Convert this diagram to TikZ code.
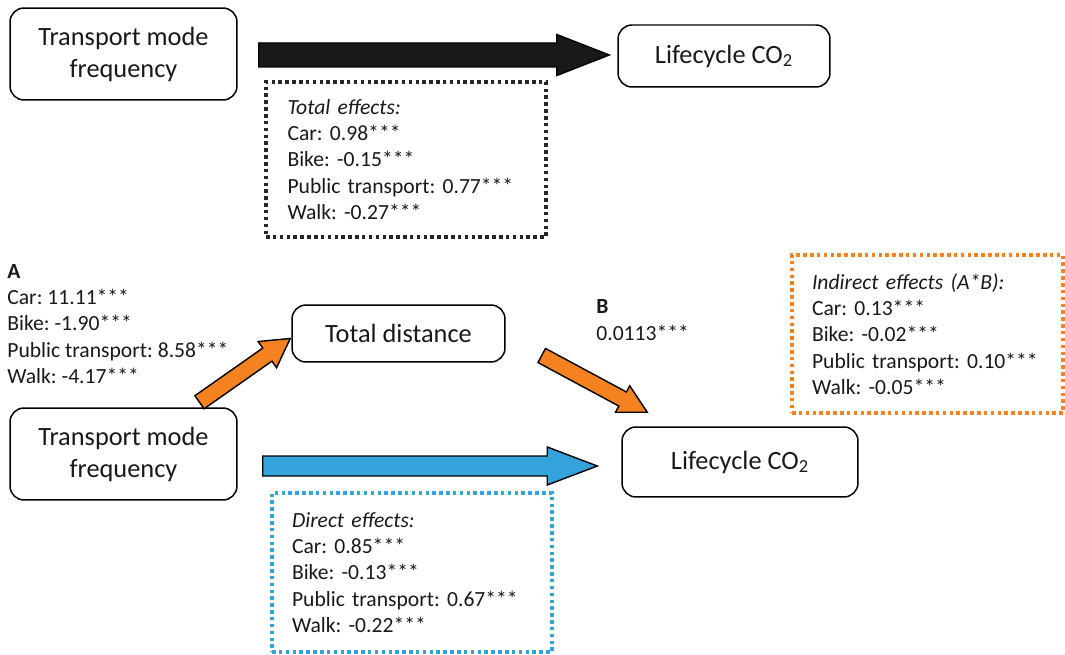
\documentclass[tikz,border=0pt]{standalone}
\usepackage{fontspec}
\setmainfont{Carlito}
\frenchspacing
\usetikzlibrary{positioning, calc}
\definecolor{effOrange}{RGB}{245,130,32}
\definecolor{effBlue}{RGB}{52,163,220}

% block arrow: \fatarrow[style]{from}{to}{shaft half width}{head half width}{head length}
\newcommand{\fatarrow}[6][]{%
  \path (#2) coordinate (fa-s) (#3) coordinate (fa-e);
  \path ($(fa-e)!#6!(fa-s)$) coordinate (fa-h);
  \draw[#1] ($(fa-s)!#4!90:(fa-e)$) -- ($(fa-h)!#4!90:(fa-e)$) -- ($(fa-h)!#5!90:(fa-e)$) -- (fa-e)
    -- ($(fa-h)!#5!-90:(fa-e)$) -- ($(fa-h)!#4!-90:(fa-e)$) -- ($(fa-s)!#4!-90:(fa-e)$) -- cycle;
}

\begin{document}
\begin{tikzpicture}[
        x=0.02cm, y=-0.02cm,
        box/.style={draw, rounded corners=0.28cm, line width=0.85pt, align=center, inner sep=0pt,
            text=black!90, font=\fontsize{15}{18.2}\selectfont},
        effbox/.style={draw, line width=2pt, dash pattern=on 2pt off 1.9pt, align=left, inner ysep=0pt,
            text=black!90, font=\fontsize{12.3}{15}\selectfont},
        coef/.style={align=left, inner sep=0pt, text=black!90, font=\fontsize{12.3}{15}\selectfont},
        blk/.style={draw=black, fill=black!90, line width=0.8pt},
        orng/.style={draw=black, fill=effOrange, line width=0.8pt},
        blu/.style={draw=black, fill=effBlue, line width=0.8pt}
    ]
        \useasboundingbox (0,0) rectangle (1065,655);

        % total effect model
        \node[box, minimum width=4.54cm, minimum height=1.84cm] (freq1) at (123.5,54) {Transport mode\\frequency};
        \node[box, minimum width=4.24cm, minimum height=1.24cm] (co2a)  at (724,56)    {Lifecycle CO\textsubscript{2}};
        \node[effbox, draw=black!85, inner xsep=0.43cm, text width=4.74cm, minimum height=3.1cm] (tot) at (406,159.5)
            {\textit{Total effects:}\\Car: 0.98***\\Bike: -0.15***\\Public transport: 0.77***\\Walk: -0.27***};

        \fatarrow[blk]{$(freq1.east)+(21,1)$}{$(co2a.west)+(-8,-1)$}{0.24cm}{0.41cm}{1.05cm}

        % mediation model
        \node[box, minimum width=4.26cm, minimum height=1.14cm] (dist)  at (398.5,333.5) {Total distance};
        \node[box, minimum width=4.54cm, minimum height=1.84cm] (freq2) at (123.5,454)   {Transport mode\\frequency};
        \node[box, minimum width=4.72cm, minimum height=1.40cm] (co2b)  at (740,462)     {Lifecycle CO\textsubscript{2}};

        \node[coef, anchor=west] (acoef) at (7,324)
            {\textbf{A}\\Car: 11.11***\\Bike: -1.90***\\Public transport: 8.58***\\Walk: -4.17***};
        \node[coef, anchor=west] (bcoef) at (596,320) {\textbf{B}\\0.0113***};

        \node[effbox, draw=effOrange, inner xsep=0.40cm, text width=4.62cm, minimum height=3.16cm] (ind) at (927.5,334)
            {\textit{Indirect effects (A*B):}\\Car: 0.13***\\Bike: -0.02***\\Public transport: 0.10***\\Walk: -0.05***};
        \node[effbox, draw=effBlue, inner xsep=0.40cm, text width=4.8cm, minimum height=3.18cm] (dir) at (412,572.5)
            {\textit{Direct effects:}\\Car: 0.85***\\Bike: -0.13***\\Public transport: 0.67***\\Walk: -0.22***};

        \fatarrow[orng]{$(freq2.north)+(76,-5)$}{$(dist.west)+(-1,5)$}{0.16cm}{0.32cm}{0.56cm}
        \fatarrow[orng]{$(dist.east)+(36,22)$}{$(co2b.north west)+(26,-14)$}{0.16cm}{0.3cm}{0.56cm}
        \fatarrow[blu]{$(freq2.east)+(25,12)$}{$(co2b.west)+(-24,4)$}{0.2cm}{0.38cm}{1.0cm}
    \end{tikzpicture}
\end{document}
